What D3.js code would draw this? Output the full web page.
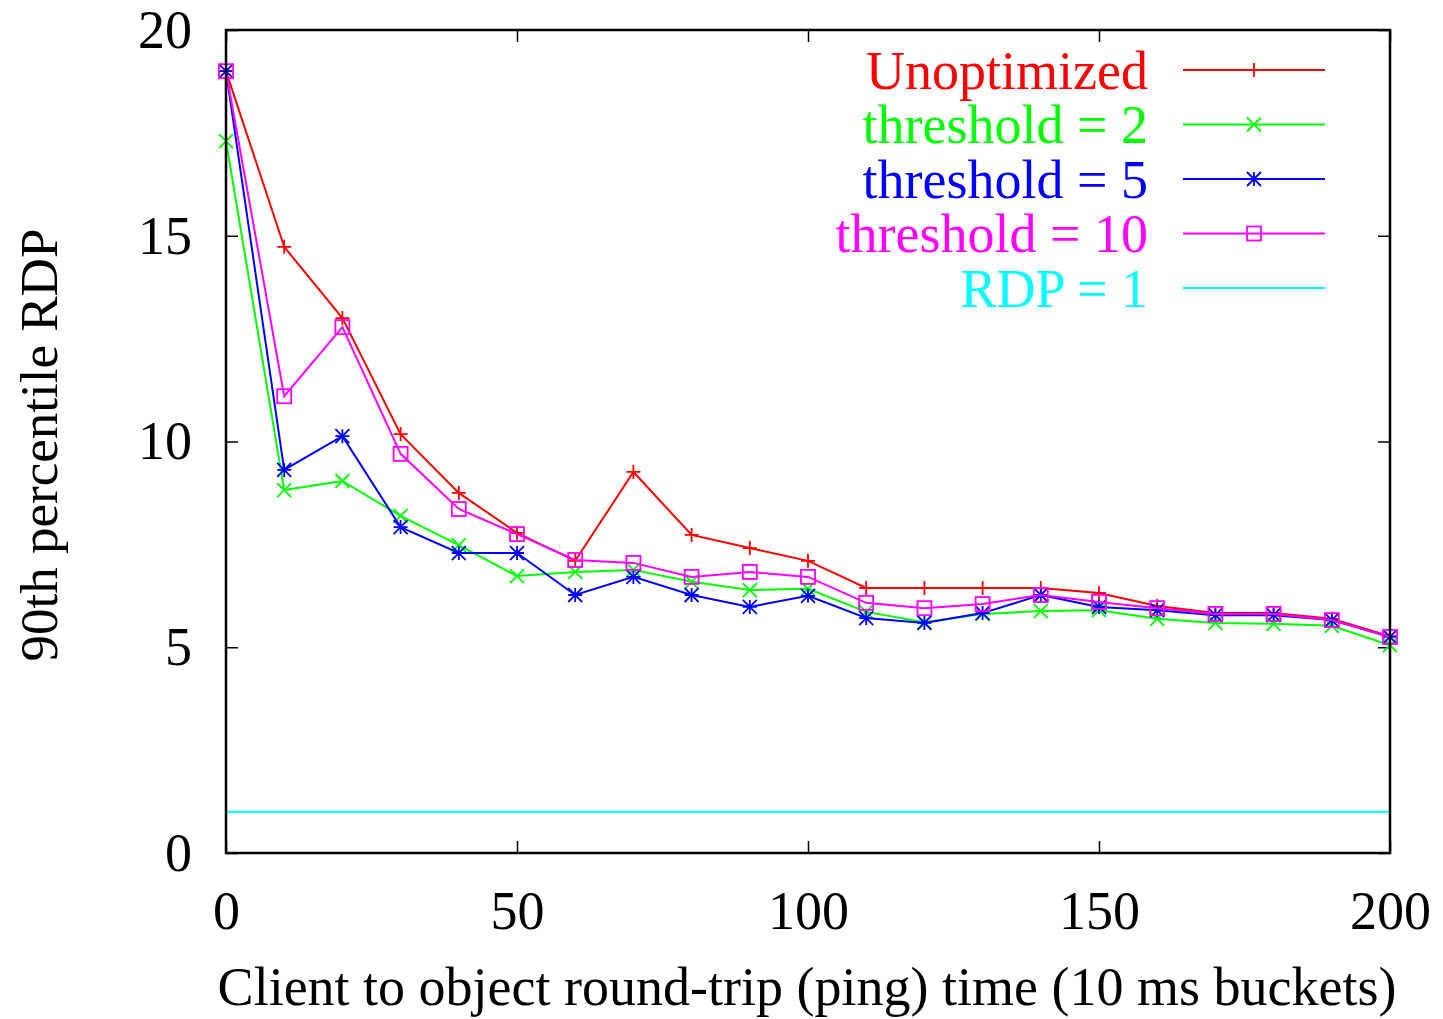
<!DOCTYPE html>
<html>
<head>
<meta charset="utf-8">
<script src="https://cdn.jsdelivr.net/npm/d3@7"></script>
<style>
  body { margin: 0; background: #fff; }
  svg { display: block; }
  text { font-family: "Liberation Serif", "Times New Roman", serif; }
</style>
</head>
<body>
<svg id="chart" width="1443" height="1019"></svg>
<script>
// data (x = bucket, 10 ms each)
var buckets = [0, 10, 20, 30, 40, 50, 60, 70, 80, 90, 100, 110, 120, 130, 140, 150, 160, 170, 180, 190, 200];
var unoptimized = [19.0, 14.73, 13.0, 10.18, 8.75, 7.78, 7.1, 9.26, 7.73, 7.41, 7.1, 6.44, 6.44, 6.44, 6.44, 6.32, 6.0, 5.83, 5.83, 5.69, 5.27];
var threshold2 = [17.3, 8.82, 9.04, 8.19, 7.48, 6.73, 6.83, 6.88, 6.59, 6.39, 6.42, 5.86, 5.61, 5.81, 5.88, 5.9, 5.69, 5.59, 5.57, 5.52, 5.05];
var threshold5 = [19.0, 9.31, 10.13, 7.92, 7.29, 7.29, 6.27, 6.71, 6.27, 5.98, 6.25, 5.71, 5.59, 5.83, 6.27, 5.98, 5.9, 5.78, 5.78, 5.66, 5.25];
var threshold10 = [19.0, 11.1, 12.78, 9.7, 8.36, 7.75, 7.12, 7.05, 6.71, 6.83, 6.71, 6.08, 5.95, 6.05, 6.27, 6.1, 5.95, 5.81, 5.81, 5.66, 5.25];
var rdpBaseline = 1;

var xTicks = [0, 50, 100, 150, 200];
var yTicks = [0, 5, 10, 15, 20];

var series = [
  { name: "Unoptimized", color: "#ff0000", marker: "plus", values: unoptimized },
  { name: "threshold = 2", color: "#00ff00", marker: "cross", values: threshold2 },
  { name: "threshold = 5", color: "#0000ff", marker: "star", values: threshold5 },
  { name: "threshold = 10", color: "#ff00ff", marker: "square", values: threshold10 }
];

var plotLeft = 226, plotRight = 1390, plotTop = 30, plotBottom = 853;

var svg = d3.select("#chart");

var x = d3.scaleLinear().domain([0, 200]).range([plotLeft, plotRight]);
var y = d3.scaleLinear().domain([0, 20]).range([plotBottom, plotTop]);

//axes, ticks pointing inwards
var tickLen = 12;

var styleAxis = function (g) {
  g.select(".domain").remove();
  g.selectAll(".tick line").attr("stroke", "#000").attr("stroke-width", 1.5);
  g.selectAll(".tick text").attr("fill", "#000").style("font-size", "54px");
};

svg.append("g")
  .attr("transform", "translate(0," + plotBottom + ")")
  .call(d3.axisBottom(x).tickValues(xTicks).tickSize(-tickLen).tickPadding(38))
  .call(styleAxis);

svg.append("g")
  .attr("transform", "translate(" + plotLeft + ",0)")
  .call(d3.axisLeft(y).tickValues(yTicks).tickSize(-tickLen).tickPadding(34))
  .call(styleAxis);

// mirrored ticks on top and right
svg.append("g")
  .attr("transform", "translate(0," + plotTop + ")")
  .call(d3.axisTop(x).tickValues(xTicks).tickSize(-tickLen).tickFormat(""))
  .call(styleAxis);

svg.append("g")
  .attr("transform", "translate(" + plotRight + ",0)")
  .call(d3.axisRight(y).tickValues(yTicks).tickSize(-tickLen).tickFormat(""))
  .call(styleAxis);

//RDP = 1 reference line
svg.append("line")
  .attr("x1", x(0)).attr("x2", x(200))
  .attr("y1", y(rdpBaseline)).attr("y2", y(rdpBaseline))
  .attr("stroke", "#00ffff").attr("stroke-width", 2);

var markerSize = 7;

var drawMarker = function (g, type, cx, cy, color) {
  var s = markerSize;
  if (type === "plus" || type === "star") {
    g.append("path")
      .attr("d", "M" + (cx - s) + "," + cy + "H" + (cx + s) + "M" + cx + "," + (cy - s) + "V" + (cy + s))
      .attr("stroke", color).attr("stroke-width", 1.8).attr("fill", "none");
  }
  if (type === "cross" || type === "star") {
    g.append("path")
      .attr("d", "M" + (cx - s) + "," + (cy - s) + "L" + (cx + s) + "," + (cy + s) +
        "M" + (cx - s) + "," + (cy + s) + "L" + (cx + s) + "," + (cy - s))
      .attr("stroke", color).attr("stroke-width", 1.8).attr("fill", "none");
  }
  if (type === "square") {
    g.append("rect")
      .attr("x", cx - s).attr("y", cy - s)
      .attr("width", 2 * s).attr("height", 2 * s)
      .attr("stroke", color).attr("stroke-width", 1.8).attr("fill", "none");
  }
};

var line = d3.line()
  .x(function (d, i) { return x(buckets[i]); })
  .y(function (d) { return y(d); });

series.forEach(function (s) {
  var g = svg.append("g");
  g.append("path")
    .datum(s.values)
    .attr("d", line)
    .attr("fill", "none")
    .attr("stroke", s.color)
    .attr("stroke-width", 2);
  s.values.forEach(function (v, i) {
    drawMarker(g, s.marker, x(buckets[i]), y(v), s.color);
  });
});

//frame
svg.append("rect")
  .attr("x", plotLeft).attr("y", plotTop)
  .attr("width", plotRight - plotLeft).attr("height", plotBottom - plotTop)
  .attr("fill", "none").attr("stroke", "#000").attr("stroke-width", 2.5);

//legend
var legendItems = series.concat([{ name: "RDP = 1", color: "#00ffff", marker: null }]);
var legendTop = 70, legendStep = 54.5;

legendItems.forEach(function (s, i) {
  var ly = legendTop + i * legendStep;
  svg.append("text")
    .attr("x", 1148).attr("y", ly)
    .attr("dy", "0.35em")
    .attr("text-anchor", "end")
    .attr("fill", s.color)
    .style("font-size", "54px")
    .text(s.name);
  svg.append("line")
    .attr("x1", 1183).attr("x2", 1325)
    .attr("y1", ly).attr("y2", ly)
    .attr("stroke", s.color).attr("stroke-width", 2);
  if (s.marker) {
    drawMarker(svg, s.marker, 1254, ly, s.color);
  }
});

//axis titles
svg.append("text")
  .attr("x", 807).attr("y", 1005)
  .attr("text-anchor", "middle")
  .style("font-size", "54px")
  .text("Client to object round-trip (ping) time (10 ms buckets)");

svg.append("text")
  .attr("transform", "translate(57,445) rotate(-90)")
  .attr("text-anchor", "middle")
  .style("font-size", "53px")
  .text("90th percentile RDP");
</script>
</body>
</html>
